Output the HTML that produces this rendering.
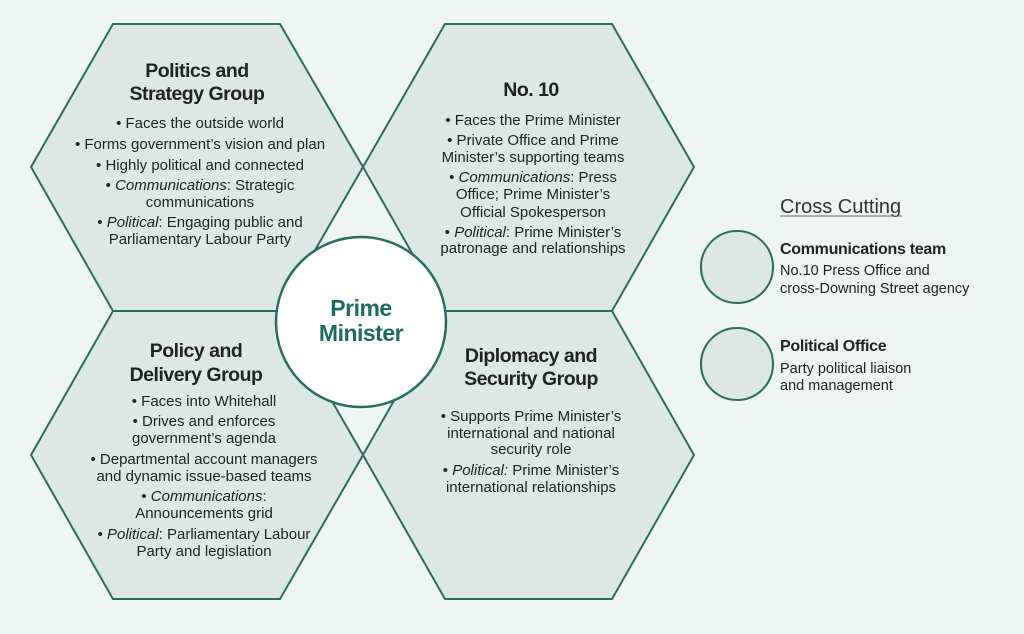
<!DOCTYPE html>
<html><head><meta charset="utf-8"><style>
html,body{margin:0;padding:0;background:#eef5f2;}
svg{display:block}
text{font-family:"Liberation Sans",sans-serif;fill:#222;}
.t{font-size:19.5px;font-weight:bold;letter-spacing:-0.5px}
.b{font-size:15px}
</style></head><body>
<svg width="1024" height="634" viewBox="0 0 1024 634" xmlns="http://www.w3.org/2000/svg">
<rect width="1024" height="634" fill="#eef5f2"/>
<g fill="#dde8e4" stroke="#2a6d61" stroke-width="2">
<polygon points="113,24 280,24 363,167 280,311 113,311 31,167"/>
<polygon points="445,24 612,24 694,167 612,311 445,311 363,167"/>
<polygon points="113,311 280,311 363,455 280,599 113,599 31,455"/>
<polygon points="445,311 612,311 694,455 612,599 445,599 363,455"/>
</g>
<circle cx="361" cy="322" r="85" fill="#fff" stroke="#2a6d61" stroke-width="2.5"/>
<text x="361" y="316" text-anchor="middle" style="font-size:23px;fill:#1d6b60;font-weight:bold;letter-spacing:-0.5px">Prime</text>
<text x="361" y="341" text-anchor="middle" style="font-size:23px;fill:#1d6b60;font-weight:bold;letter-spacing:-0.5px">Minister</text>

<g text-anchor="middle">
<text class="t" x="197" y="77">Politics and</text>
<text class="t" x="197" y="100">Strategy Group</text>
<text class="b" x="200" y="128">• Faces the outside world</text>
<text class="b" x="200" y="149">• Forms government’s vision and plan</text>
<text class="b" x="200" y="170">• Highly political and connected</text>
<text class="b" x="200" y="190">• <tspan font-style="italic">Communications</tspan>: Strategic</text>
<text class="b" x="200" y="207">communications</text>
<text class="b" x="200" y="227">• <tspan font-style="italic">Political</tspan>: Engaging public and</text>
<text class="b" x="200" y="244">Parliamentary Labour Party</text>

<text class="t" x="531" y="96">No. 10</text>
<text class="b" x="533" y="125">• Faces the Prime Minister</text>
<text class="b" x="533" y="145">• Private Office and Prime</text>
<text class="b" x="533" y="162">Minister’s supporting teams</text>
<text class="b" x="533" y="182">• <tspan font-style="italic">Communications</tspan>: Press</text>
<text class="b" x="533" y="199">Office; Prime Minister’s</text>
<text class="b" x="533" y="217">Official Spokesperson</text>
<text class="b" x="533" y="237">• <tspan font-style="italic">Political</tspan>: Prime Minister’s</text>
<text class="b" x="533" y="253">patronage and relationships</text>

<text class="t" x="196" y="357">Policy and</text>
<text class="t" x="196" y="381">Delivery Group</text>
<text class="b" x="204" y="406">• Faces into Whitehall</text>
<text class="b" x="204" y="426">• Drives and enforces</text>
<text class="b" x="204" y="443">government’s agenda</text>
<text class="b" x="204" y="464">• Departmental account managers</text>
<text class="b" x="204" y="481">and dynamic issue-based teams</text>
<text class="b" x="204" y="501">• <tspan font-style="italic">Communications</tspan>:</text>
<text class="b" x="204" y="518">Announcements grid</text>
<text class="b" x="204" y="539">• <tspan font-style="italic">Political</tspan>: Parliamentary Labour</text>
<text class="b" x="204" y="556">Party and legislation</text>

<text class="t" x="531" y="362">Diplomacy and</text>
<text class="t" x="531" y="385">Security Group</text>
<text class="b" x="531" y="421">• Supports Prime Minister’s</text>
<text class="b" x="531" y="438">international and national</text>
<text class="b" x="531" y="454">security role</text>
<text class="b" x="531" y="475">• <tspan font-style="italic">Political:</tspan> Prime Minister’s</text>
<text class="b" x="531" y="492">international relationships</text>
</g>

<text x="780" y="213" style="font-size:20px;fill:#333">Cross Cutting</text>
<line x1="780" y1="216" x2="902" y2="216" stroke="#666" stroke-width="1"/>
<circle cx="737" cy="267" r="36" fill="#dde8e4" stroke="#2a6d61" stroke-width="2"/>
<circle cx="737" cy="364" r="36" fill="#dde8e4" stroke="#2a6d61" stroke-width="2"/>
<text x="780" y="254" style="font-size:16px;font-weight:bold;letter-spacing:-0.3px">Communications team</text>
<text x="780" y="275" style="font-size:14.5px">No.10 Press Office and</text>
<text x="780" y="293" style="font-size:14.5px">cross-Downing Street agency</text>
<text x="780" y="351" style="font-size:16px;font-weight:bold;letter-spacing:-0.3px">Political Office</text>
<text x="780" y="373" style="font-size:14.5px">Party political liaison</text>
<text x="780" y="390" style="font-size:14.5px">and management</text>
</svg>
</body></html>
